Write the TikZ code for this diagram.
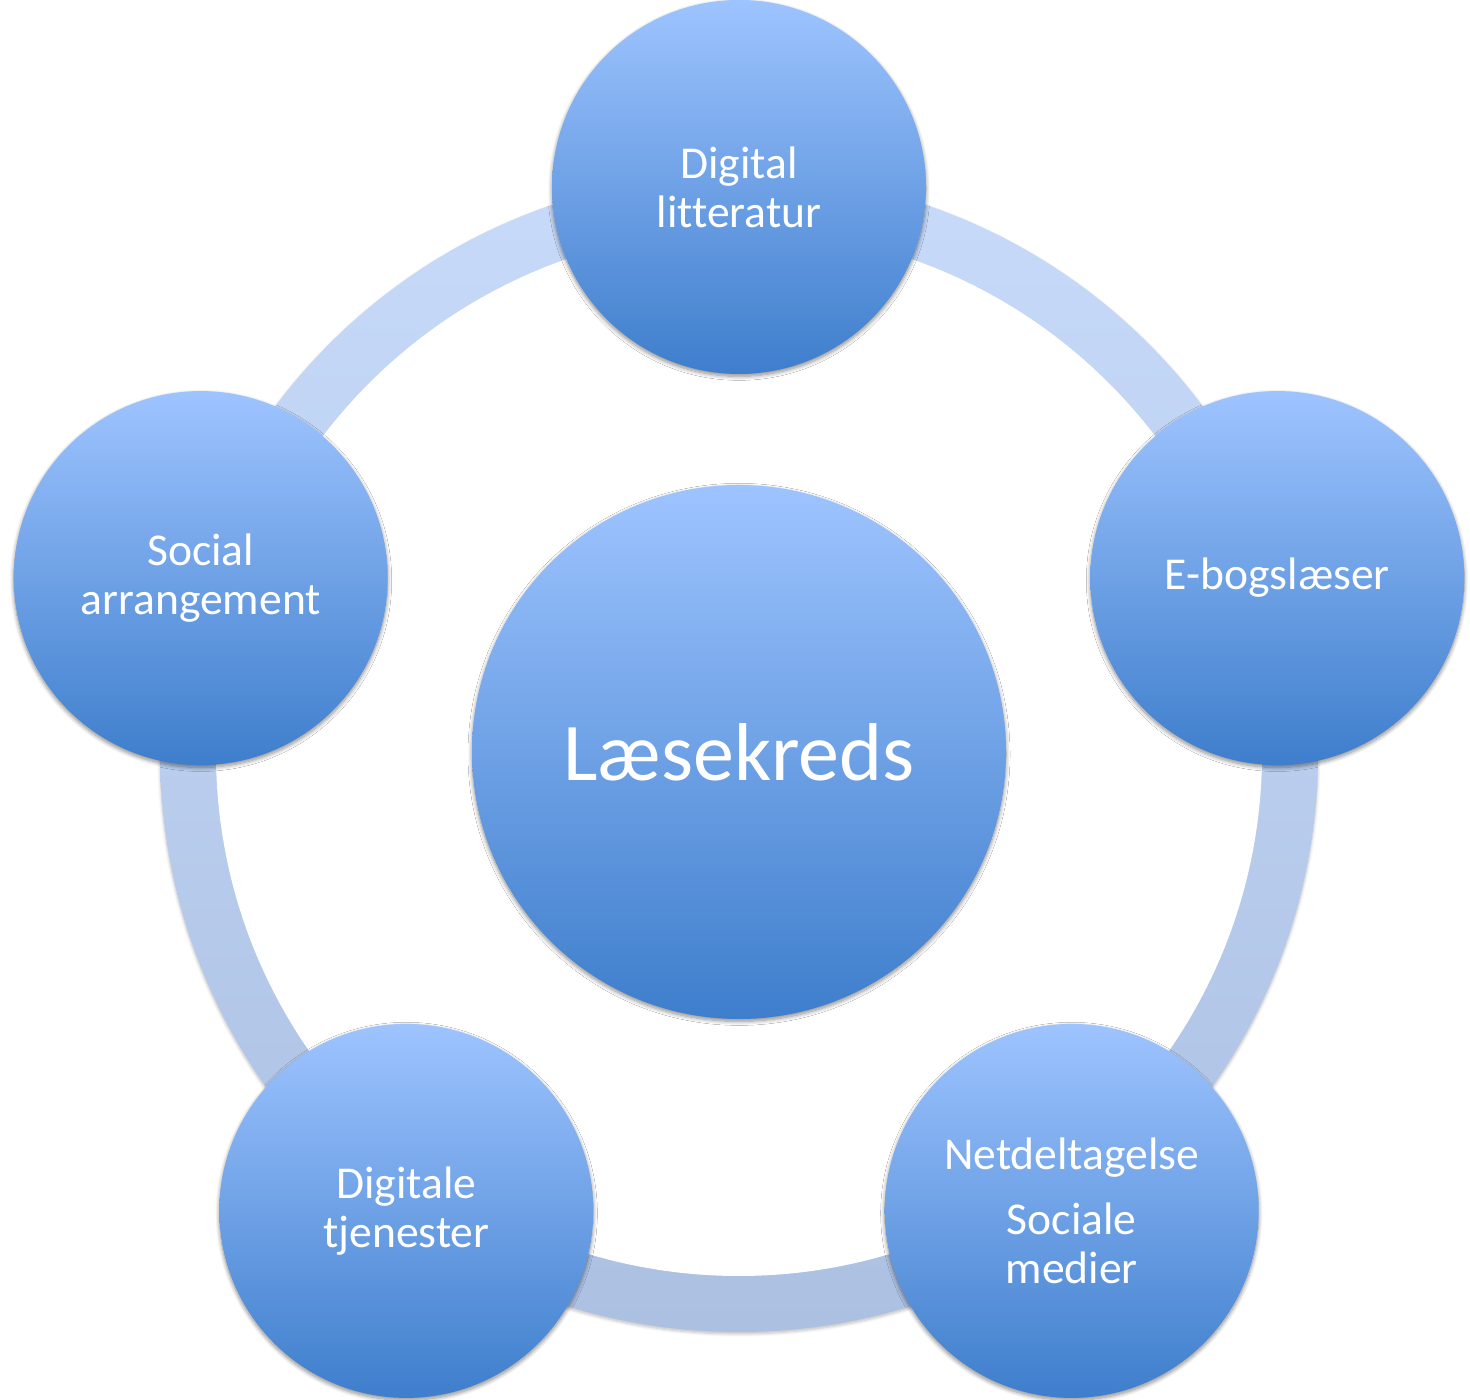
\documentclass[tikz,border=0pt]{standalone}
\usepackage{fontspec}
\setmainfont[Ligatures=NoCommon]{Carlito}
\usetikzlibrary{shadows.blur,calc}
\definecolor{ctop}{RGB}{158,196,255}
\definecolor{cbot}{RGB}{62,126,204}
\definecolor{rtop}{RGB}{199,218,249}
\definecolor{rbot}{RGB}{172,192,226}
\begin{document}
\begin{tikzpicture}[x=0.5pt,y=0.5pt,
  softshadow/.style={blur shadow={shadow xshift=0pt, shadow yshift=-1.2pt, shadow blur radius=2pt, shadow opacity=45, shadow blur steps=8}},
  bubble/.style={circle, inner sep=0pt, minimum size=#1, top color=ctop, bottom color=cbot,
    text=white, align=center, softshadow},
  small/.style={font=\fontsize{22.8}{24.5}\selectfont},
  big/.style={font=\fontsize{41}{44}\selectfont}]
\useasboundingbox (0,0) rectangle (1470,1400);
\coordinate (C) at (739,647);
% ring
\path[top color=rtop, bottom color=rbot, blur shadow={shadow xshift=0pt, shadow yshift=-1pt, shadow blur radius=1.5pt, shadow opacity=25, shadow blur steps=6}] (C) circle[radius=289.5pt];
\path[fill=white] (C) circle[radius=261.5pt];
% centre
\node[bubble=267pt, big] (center) at ($(C)+(0,1)$) {Læsekreds};
% satellites
\node[bubble=187pt, small] (n1) at ($(C)+(90:566)$) {Digital\\litteratur};
\node[bubble=187pt, small] (n2) at ($(C)+(18:566)$) {E-bogslæser};
\node[bubble=187pt, small] (n3) at ($(C)+(-54:566)$) {Netdeltagelse\\[8pt]Sociale\\medier};
\node[bubble=187pt, small] (n4) at ($(C)+(-126:566)$) {Digitale\\tjenester};
\node[bubble=187pt, small] (n5) at ($(C)+(162:566)$) {Social\\arrangement};
\end{tikzpicture}
\end{document}
